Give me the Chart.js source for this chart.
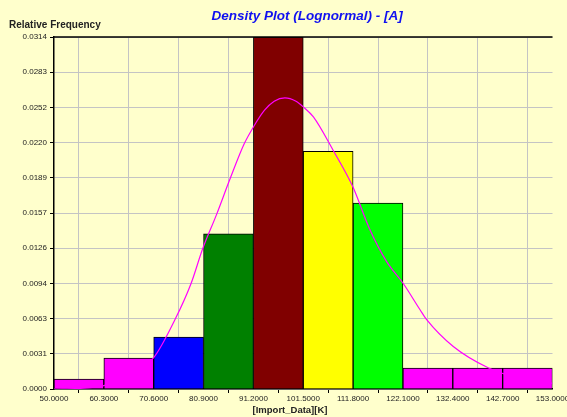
<!DOCTYPE html>
<html lang="en">
<head>
    <meta charset="UTF-8">
    <title>Density Plot (Lognormal) - [A]</title>
    <script src="https://cdn.jsdelivr.net/npm/chart.js"></script>
    <style>
        html, body {
            margin: 0;
            padding: 0;
            background-color: #FFFFCC;
        }
        #chartContainer {
            width: 567px;
            height: 417px;
        }
    </style>
</head>
<body>
    <div id="chartContainer">
        <canvas id="densityChart" width="567" height="417"></canvas>
    </div>
    <script>
        // Bin edges and their tick labels
        const binEdges = [50.0, 60.3, 70.6, 80.9, 91.2, 101.5, 111.8, 122.1, 132.4, 142.7, 153.0];
        const xTickLabels = ['50.0000', '60.3000', '70.6000', '80.9000', '91.2000', '101.5000',
                             '111.8000', '122.1000', '132.4000', '142.7000', '153.0000'];

        // Relative frequency of each bin
        const binFreq = [0.00089, 0.00276, 0.00464, 0.01385, 0.03144, 0.02122, 0.01661, 0.00187, 0.00187, 0.00187];
        const binColors = ['#FF00FF', '#FF00FF', '#0000FF', '#008000', '#800000',
                           '#FFFF00', '#00FF00', '#FF00FF', '#FF00FF', '#FF00FF'];

        // Fitted lognormal density, sampled
        const curveX = [50, 55, 60.3, 65, 70.6, 75, 78.3, 80.7, 83.6, 86.4, 89.3, 91.2, 93.5, 95.5, 97.7, 100,
                        101.5, 103.6, 107.7, 111.7, 115.3, 118.7, 122.2, 125.6, 127, 132.5, 139.7, 145, 153];
        const curveY = [0.0, 0.00005, 0.0003, 0.0011, 0.0028, 0.0062, 0.0094, 0.0125, 0.0156, 0.0188, 0.0219, 0.0234, 0.0249, 0.0257, 0.0260, 0.0257,
                        0.0252, 0.0243, 0.0213, 0.0181, 0.0142, 0.0114, 0.0094, 0.0071, 0.0062, 0.0038, 0.0019, 0.0011, 0.0005];

        const yMax = 0.03144;
        const yTickLabels = ['0.0000', '0.0031', '0.0063', '0.0094', '0.0126', '0.0157',
                             '0.0189', '0.0220', '0.0252', '0.0283', '0.0314'];

        const barData = binFreq.map((f, i) => ({ x: (binEdges[i] + binEdges[i + 1]) / 2, y: f }));
        const lineData = curveX.map((x, i) => ({ x: x, y: curveY[i] }));

        const textColor = '#222222';

        // Title, axis captions and the top frame line
        const decorations = {
            id: 'decorations',
            afterDatasetsDraw(chart) {
                const ctx = chart.ctx;
                const area = chart.chartArea;
                ctx.save();
                ctx.strokeStyle = '#000000';
                ctx.lineWidth = 1.5;
                ctx.beginPath();
                ctx.moveTo(area.left, area.top);
                ctx.lineTo(area.right, area.top);
                ctx.stroke();
                ctx.restore();
            },
            afterDraw(chart) {
                const ctx = chart.ctx;
                ctx.save();
                ctx.textBaseline = 'middle';

                ctx.fillStyle = '#1010F0';
                ctx.font = 'italic bold 13.5px "Liberation Sans", Arial, sans-serif';
                ctx.textAlign = 'center';
                ctx.fillText('Density Plot (Lognormal) - [A]', 307, 16);

                ctx.fillStyle = textColor;
                ctx.font = 'bold 10px "Liberation Sans", Arial, sans-serif';
                ctx.textAlign = 'left';
                ctx.fillText('Relative Frequency', 9, 25);

                ctx.font = 'bold 9.5px "Liberation Sans", Arial, sans-serif';
                ctx.textAlign = 'center';
                ctx.fillText('[Import_Data][K]', 290, 410);
                ctx.restore();
            }
        };

        const ctx = document.getElementById('densityChart').getContext('2d');
        new Chart(ctx, {
            data: {
                datasets: [{
                    type: 'line',
                    label: 'Lognormal',
                    data: lineData,
                    borderColor: '#FF00FF',
                    borderWidth: 1.2,
                    pointRadius: 0,
                    cubicInterpolationMode: 'monotone',
                    fill: false,
                    order: 0
                }, {
                    type: 'bar',
                    label: 'Frequency',
                    data: barData,
                    backgroundColor: binColors,
                    borderColor: '#000000',
                    borderWidth: 1,
                    barPercentage: 1.0,
                    categoryPercentage: 1.0,
                    order: 1
                }]
            },
            options: {
                responsive: false,
                animation: false,
                devicePixelRatio: 1,
                layout: {
                    padding: { top: 37, right: 14.5, left: 0, bottom: 0 }
                },
                plugins: {
                    legend: { display: false },
                    tooltip: { enabled: false },
                    title: { display: false }
                },
                scales: {
                    x: {
                        type: 'linear',
                        min: 50,
                        max: 153,
                        offset: false,
                        afterBuildTicks(scale) {
                            scale.ticks = binEdges.map(v => ({ value: v }));
                        },
                        afterFit(scale) {
                            scale.height = 28;
                            // let the last tick label hang into the page margin
                            scale.paddingLeft = 0;
                            scale.paddingRight = 0;
                        },
                        ticks: {
                            autoSkip: false,
                            maxRotation: 0,
                            padding: 1,
                            color: textColor,
                            font: { family: '"Liberation Sans", Arial, sans-serif', size: 8 },
                            callback: (value, index) => xTickLabels[index]
                        },
                        grid: {
                            color: '#C4C4C4',
                            lineWidth: 1,
                            tickColor: '#000000',
                            tickLength: 4
                        },
                        border: { color: '#000000', width: 1.5 }
                    },
                    y: {
                        min: 0,
                        max: yMax,
                        afterBuildTicks(scale) {
                            scale.ticks = yTickLabels.map((t, i) => ({ value: i * yMax / 10 }));
                        },
                        afterFit(scale) {
                            scale.width = 54;
                            scale.paddingTop = 0;
                            scale.paddingBottom = 0;
                        },
                        ticks: {
                            autoSkip: false,
                            padding: 3,
                            color: textColor,
                            font: { family: '"Liberation Sans", Arial, sans-serif', size: 8 },
                            callback: (value, index) => yTickLabels[index]
                        },
                        grid: {
                            color: '#C4C4C4',
                            lineWidth: 1,
                            tickColor: '#000000',
                            tickLength: 4
                        },
                        border: { color: '#000000', width: 1.5 }
                    }
                }
            },
            plugins: [decorations]
        });
    </script>
</body>
</html>
